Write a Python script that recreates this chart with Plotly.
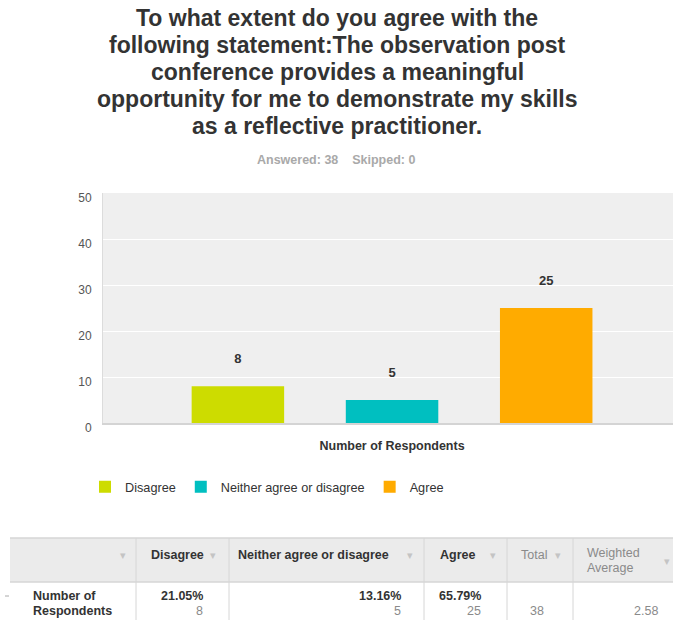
import plotly.graph_objects as go

# ---------------- data ----------------
TITLE_LINES = [
    "To what extent do you agree with the",
    "following statement:The observation post",
    "conference provides a meaningful",
    "opportunity for me to demonstrate my skills",
    "as a reflective practitioner.",
]
ANSWERED = 38
SKIPPED = 0
CATEGORY = "Number of Respondents"
SERIES = ["Disagree", "Neither agree or disagree", "Agree"]
COUNTS = [8, 5, 25]
PERCENTS = ["21.05%", "13.16%", "65.79%"]
TOTAL = 38
WEIGHTED_AVERAGE = "2.58"
TABLE_EXTRA_HEADERS = ["Total", "Weighted<br>Average"]
Y_TICKS = [0, 10, 20, 30, 40, 50]
COLORS = ["#cddc00", "#00bfc0", "#ffab00"]

# ---------------- geometry ----------------
W, H = 673, 620
ML, MR, MT, MB = 103, 0, 193, 197
PW = W - ML - MR
PH = H - MT - MB
FONT = "Liberation Sans, Arial, Helvetica, sans-serif"


def px(x):
    return (x - ML) / PW


def py(y):
    return (H - MB - y) / PH


fig = go.Figure()
for name, v, c in zip(SERIES, COUNTS, COLORS):
    fig.add_trace(go.Bar(
        name=name, x=[CATEGORY], y=[v],
        marker=dict(color=c, line=dict(width=0)),
        texttemplate="<b>%{y}</b><br> ", textposition="outside",
        textfont=dict(size=13, color="#333333", family=FONT),
        cliponaxis=False, hoverinfo="skip",
    ))

annotations = []
# title lines
title_y = [18, 45, 72, 99, 126]
for line, yy in zip(TITLE_LINES, title_y):
    annotations.append(dict(
        text=line, xref="paper", yref="paper", x=px(337), y=py(yy),
        xanchor="center", yanchor="middle", showarrow=False,
        font=dict(size=23, color="#333333", family=FONT, weight="bold"),
    ))
annotations.append(dict(
    text=f"Answered: {ANSWERED}&nbsp;&nbsp;&nbsp;&nbsp;Skipped: {SKIPPED}",
    xref="paper", yref="paper", x=px(336), y=py(160),
    xanchor="center", yanchor="middle", showarrow=False,
    font=dict(size=12.5, color="#a9a9a9", family=FONT, weight="bold"),
))

# ---------------- table ----------------
shapes = []
TABLE_TOP, HEAD_BOT, TABLE_BOT = 538, 582, 625
COL_LINES = [136, 229, 424, 507, 573]
shapes.append(dict(type="rect", xref="paper", yref="paper",
                   x0=px(10), x1=px(690), y0=py(TABLE_TOP), y1=py(HEAD_BOT),
                   fillcolor="#ebebeb", line=dict(width=0), layer="above"))
for yy in (TABLE_TOP, HEAD_BOT):
    shapes.append(dict(type="line", xref="paper", yref="paper",
                       x0=px(10), x1=px(690), y0=py(yy), y1=py(yy),
                       line=dict(color="#d6d6d6", width=1.5)))
for xx in COL_LINES:
    shapes.append(dict(type="line", xref="paper", yref="paper",
                       x0=px(xx), x1=px(xx), y0=py(TABLE_TOP), y1=py(TABLE_BOT),
                       line=dict(color="#d6d6d6", width=1)))
shapes.append(dict(type="line", xref="paper", yref="paper",
                   x0=px(5), x1=px(9), y0=py(596), y1=py(596),
                   line=dict(color="#aaaaaa", width=1)))


def txt(t, x, y, xanchor="left", size=12.5, color="#333333", bold=False):
    annotations.append(dict(
        text=t, xref="paper", yref="paper", x=px(x), y=py(y),
        xanchor=xanchor, yanchor="middle", showarrow=False,
        font=dict(size=size, color=color, family=FONT,
                  weight="bold" if bold else "normal"),
    ))


ARROW = "▾"
# header
txt(ARROW, 123, 555, "center", 11, "#c4c4c4")
head_x = [149, 236, 438]
arrow_x = [213, 410, 493]
for name, hx, ax in zip(SERIES, head_x, arrow_x):
    txt(name, hx, 555, "left", 12.5, "#333333", True)
    txt(ARROW, ax, 555, "center", 11, "#c4c4c4")
txt(TABLE_EXTRA_HEADERS[0], 519, 555, "left", 12.5, "#8a8a8a")
txt(ARROW, 558, 555, "center", 11, "#c4c4c4")
w1, w2 = TABLE_EXTRA_HEADERS[1].split("<br>")
txt(w1, 585, 553, "left", 12.5, "#8a8a8a")
txt(w2, 585, 568, "left", 12.5, "#8a8a8a")
txt(ARROW, 667, 561, "center", 11, "#c4c4c4")

# data row
row_label = CATEGORY.split(" ")
txt(" ".join(row_label[:2]), 31, 596, "left", 12.5, "#333333", True)
txt(row_label[2], 31, 611, "left", 12.5, "#333333", True)
right_x = [205, 403, 483]
for p, c, rx in zip(PERCENTS, COUNTS, right_x):
    txt(p, rx, 596, "right", 12.5, "#333333", True)
    txt(str(c), rx, 611, "right", 12.5, "#8a8a8a")
txt(str(TOTAL), 546, 611, "right", 12.5, "#8a8a8a")
txt(WEIGHTED_AVERAGE, 660, 611, "right", 12.5, "#8a8a8a")

fig.update_layout(
    width=W, height=H,
    margin=dict(l=ML, r=MR, t=MT, b=MB, pad=0),
    paper_bgcolor="white", plot_bgcolor="#efefef",
    font=dict(family=FONT, color="#333333"),
    barmode="group", bargap=0.2, bargroupgap=0.4,
    showlegend=True,
    legend=dict(orientation="h", x=px(85), y=py(487), xanchor="left",
                yanchor="middle", font=dict(size=12.7, color="#333333", family=FONT),
                bgcolor="rgba(0,0,0,0)", traceorder="normal"),
    xaxis=dict(type="category", range=[-0.5, 0.486], showgrid=False,
               showline=True, linecolor="#d4d4d4", linewidth=2, ticks="",
               tickfont=dict(size=12.5, color="#333333", family=FONT, weight="bold"),
               ticklabelstandoff=10, fixedrange=True),
    yaxis=dict(range=[0, 50], tickvals=Y_TICKS, showgrid=True, gridcolor="white",
               gridwidth=1.2, showline=True, linecolor="#dcdcdc", linewidth=1,
               zeroline=False, ticks="",
               tickfont=dict(size=12, color="#555555", family=FONT),
               ticklabelstandoff=8, ticklabelshift=5, fixedrange=True),
    annotations=annotations, shapes=shapes,
)

fig.write_html(
    "out.html",
    config={"displayModeBar": False},
    post_script="document.body.style.margin='0px';document.body.style.overflow='hidden';",
)
